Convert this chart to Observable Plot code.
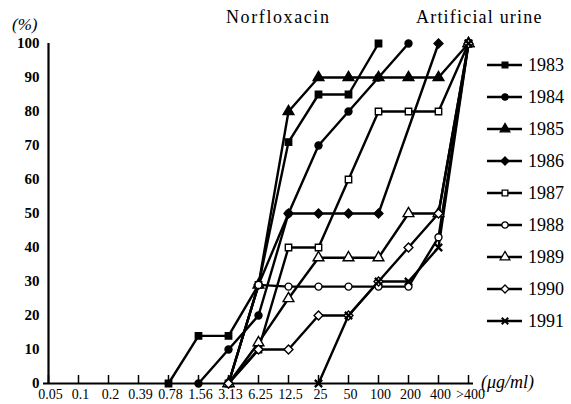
<!DOCTYPE html>
<html><head><meta charset="utf-8">
<script src="https://cdn.jsdelivr.net/npm/d3@7"></script>
<script src="https://cdn.jsdelivr.net/npm/@observablehq/plot@0.6"></script>
<style>
body{margin:0;background:#fff;}
#wrap{position:relative;width:571px;height:404px;font-family:"Liberation Serif",serif;color:#000;overflow:hidden;}
#wrap svg{position:absolute;left:0;top:0;}
.lab{position:absolute;font-size:18px;white-space:nowrap;line-height:20px;}
</style></head><body><div id="wrap"></div>
<script>
const categories = ["0.05","0.1","0.2","0.39","0.78","1.56","3.13","6.25","12.5","25","50","100","200","400",">400"];
const years = ["1983","1984","1985","1986","1987","1988","1989","1990","1991"];
const yTicks = [0,10,20,30,40,50,60,70,80,90,100];
//            0.05 0.1  0.2  0.39 0.78 1.56 3.13 6.25 12.5 25   50   100  200  400  >400
const v1983 = [null,null,null,null,0,   14,  14,  29,  71,  85,  85,  100, null,null,null];
const v1984 = [null,null,null,null,null,0,   10,  20,  50,  70,  80,  90,  100, null,null];
const v1985 = [null,null,null,null,null,null,0,   29,  80,  90,  90,  90,  90,  90,  100];
const v1986 = [null,null,null,null,null,null,0,   29,  50,  50,  50,  50,  null,100, null];
const v1987 = [null,null,null,null,null,null,0,   10,  40,  40,  60,  80,  80,  80,  100];
const v1988 = [null,null,null,null,null,null,0,   29,  28.5,28.5,28.5,28.5,28.5,43,  100];
const v1989 = [null,null,null,null,null,null,0,   12,  25,  37,  37,  37,  50,  50,  100];
const v1990 = [null,null,null,null,null,null,0,   10,  10,  20,  20,  30,  40,  50,  100];
const v1991 = [null,null,null,null,null,null,null,null,null,0,   20,  30,  30,  40,  100];
const seriesValues = [v1983,v1984,v1985,v1986,v1987,v1988,v1989,v1990,v1991];
const symbols = ["square","circle","triangle","diamond2","square","circle","triangle","diamond2","times"];
const filled = [true,true,true,true,false,false,false,false,true];
const symR = [3.6,3.5,4.0,4.0,3.6,3.5,4.0,4.0,3.4];

const series = years.map((yr,i)=>seriesValues[i]
  .map((v,j)=>({year:yr, cat:categories[j], value:v}))
  .filter(d=>d.value!=null));

const marks = [
  Plot.ruleY([0], {strokeWidth:2}),
  Plot.ruleX([categories[0]], {y1:0, y2:100, strokeWidth:2.2}),
  // inward y ticks (to the right of the axis)
  Plot.ruleY(yTicks, {x1:categories[0], x2:categories[0], insetRight:-7, strokeWidth:2}),
  // inward x ticks (upward from the axis)
  Plot.ruleX(categories, {y1:0, y2:0, insetTop:-8, strokeWidth:1.5}),
  Plot.axisY({ticks:yTicks, tickSize:0, tickPadding:4, fontSize:15, fontWeight:"bold", label:null}),
  Plot.axisX({tickSize:0, tickPadding:6, fontSize:14, dx:2, label:null, style:{letterSpacing:"0.6px"}})
];
series.forEach((d)=>marks.push(Plot.line(d,{x:"cat",y:"value",stroke:"black",strokeWidth:2.4})));
series.forEach((d,i)=>marks.push(Plot.dot(d,{x:"cat",y:"value",symbol:symbols[i],r:symR[i],
  fill: symbols[i]==="times" ? "none" : (filled[i] ? "black" : "white"),
  stroke:"black", strokeWidth: symbols[i]==="times" ? 2.2 : 1.4})));

const plot = Plot.plot({
  width:571, height:404, marginLeft:43, marginRight:98, marginTop:43, marginBottom:21,
  style:{fontFamily:"Liberation Serif", background:"transparent", color:"black"},
  x:{type:"point", domain:categories, padding:0, axis:null, label:null},
  y:{domain:[0,100], axis:null, label:null},
  marks
});
const wrap = document.getElementById("wrap");
wrap.appendChild(plot);

function label(text, left, top, size, extra){
  const d = document.createElement("div");
  d.className="lab"; d.textContent=text;
  d.style.left=left+"px"; d.style.top=top+"px"; d.style.fontSize=size+"px";
  if(extra) Object.assign(d.style, extra);
  wrap.appendChild(d);
}
label("Norfloxacin", 226, 7, 18, {letterSpacing:"1.6px"});
label("Artificial urine", 416, 7, 18, {letterSpacing:"1.2px"});
label("(%)", 12, 15, 17, {fontStyle:"italic"});
label("(μg/ml)", 481, 372, 18, {fontStyle:"italic"});

// legend
const leg = d3.select(wrap).append("svg").attr("width",571).attr("height",404)
  .style("pointer-events","none");
const symMap = {square:d3.symbolSquare, circle:d3.symbolCircle, triangle:d3.symbolTriangle, diamond2:d3.symbolDiamond2, times:d3.symbolTimes};
years.forEach((yr,i)=>{
  const cy = 65 + i*32.0;
  const g = leg.append("g").attr("transform",`translate(0,${cy})`);
  g.append("line").attr("x1",487).attr("x2",522).attr("y1",0).attr("y2",0).attr("stroke","black").attr("stroke-width",2.4);
  const size = Math.PI*symR[i]*symR[i]*0.8;
  g.append("path").attr("d", d3.symbol(symMap[symbols[i]], size)())
    .attr("transform","translate(505,0)")
    .attr("fill", symbols[i]==="times" ? "none" : (filled[i] ? "black" : "white"))
    .attr("stroke","black").attr("stroke-width", symbols[i]==="times" ? 2 : 1.3);
  g.append("text").attr("x",528).attr("y",0).attr("dy","0.35em")
    .attr("font-family","Liberation Serif").attr("font-size",18).text(yr);
});
</script></body></html>
